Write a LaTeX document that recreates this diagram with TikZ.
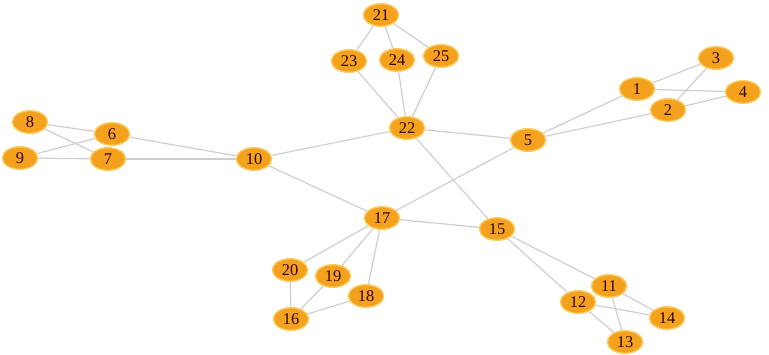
\documentclass[tikz,border=0pt]{standalone}
\usepackage{fontspec}
\setmainfont{Liberation Serif}
\usetikzlibrary{shapes.geometric}
\definecolor{nodefill}{RGB}{244,162,30}
\definecolor{nodeglow}{RGB}{250,205,100}
\definecolor{edgegray}{RGB}{205,205,210}
\begin{document}
\begin{tikzpicture}[x=0.03cm, y=-0.03cm,
  every path/.style={draw=edgegray, line width=.1em},
  every node/.style={font={\fontsize{14}{16}\selectfont}, text=black!80!red, ellipse,
    fill=nodefill, draw=nodeglow, line width=.12em, minimum width=1.06cm, minimum height=.68cm, inner sep=0pt}]
\path[use as bounding box, draw=none] (0,0) rectangle (769,354);
\node (n1) at (637,89) {1};
\node (n2) at (668,110) {2};
\node (n3) at (716,58) {3};
\node (n4) at (743,92) {4};
\node (n5) at (528,140) {5};
\node (n6) at (112,134) {6};
\node (n7) at (108,159) {7};
\node (n8) at (30,122) {8};
\node (n9) at (20,158) {9};
\node (n10) at (254,159) {10};
\node (n11) at (609,286) {11};
\node (n12) at (578,302) {12};
\node (n13) at (625,342) {13};
\node (n14) at (667,318) {14};
\node (n15) at (497,229) {15};
\node (n16) at (291,319) {16};
\node (n17) at (382,218) {17};
\node (n18) at (366,296) {18};
\node (n19) at (333,276) {19};
\node (n20) at (290,270) {20};
\node (n21) at (381,15) {21};
\node (n22) at (407,128) {22};
\node (n23) at (349,61) {23};
\node (n24) at (397,60) {24};
\node (n25) at (441,56) {25};
\path (n1) -- (n3);
\path (n1) -- (n4);
\path (n1) -- (n5);
\path (n2) -- (n3);
\path (n2) -- (n4);
\path (n2) -- (n5);
\path (n5) -- (n22);
\path (n5) -- (n17);
\path (n22) -- (n10);
\path (n22) -- (n15);
\path (n21) -- (n23);
\path (n21) -- (n24);
\path (n21) -- (n25);
\path (n23) -- (n22);
\path (n24) -- (n22);
\path (n25) -- (n22);
\path (n10) -- (n6);
\path (n10) -- (n7);
\path (n10) -- (n17);
\path (n8) -- (n6);
\path (n8) -- (n7);
\path (n9) -- (n6);
\path (n9) -- (n7);
\path (n17) -- (n15);
\path (n17) -- (n20);
\path (n17) -- (n19);
\path (n17) -- (n18);
\path (n19) -- (n16);
\path (n20) -- (n16);
\path (n18) -- (n16);
\path (n15) -- (n11);
\path (n15) -- (n12);
\path (n11) -- (n13);
\path (n11) -- (n14);
\path (n12) -- (n13);
\path (n12) -- (n14);
\end{tikzpicture}
\end{document}
